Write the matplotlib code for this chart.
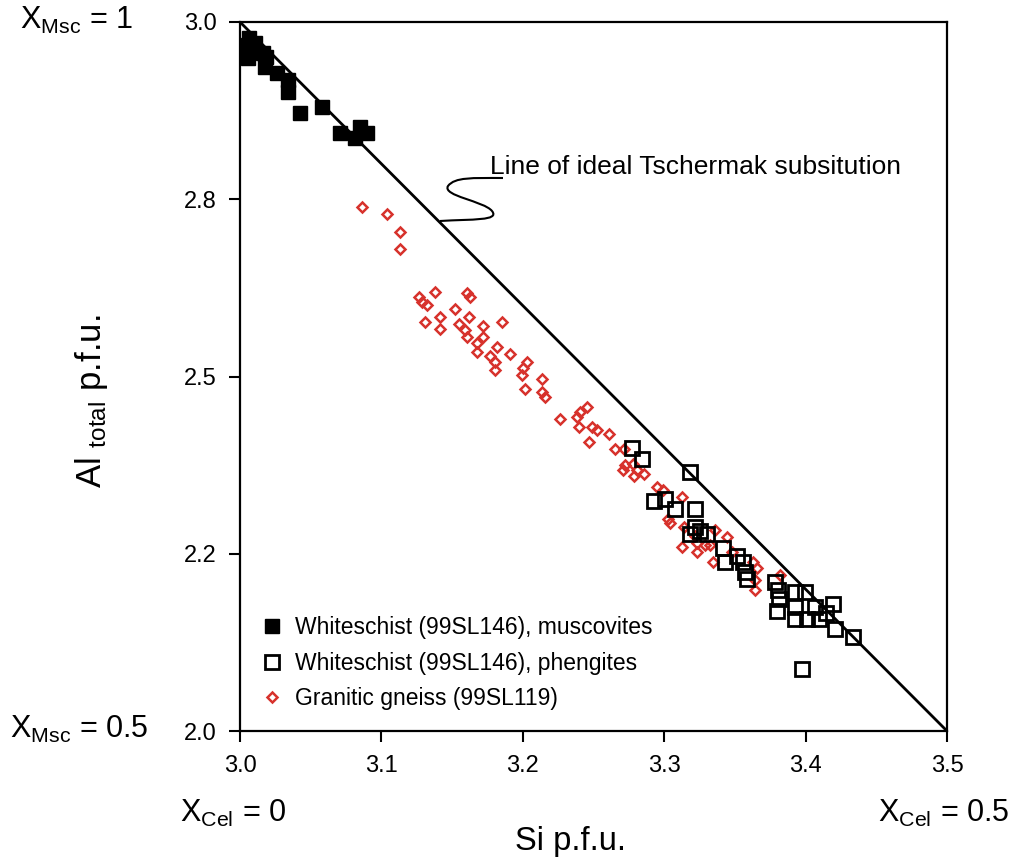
import numpy as np
import matplotlib
matplotlib.use('Agg')
import matplotlib.pyplot as plt
from matplotlib.path import Path
from matplotlib.patches import PathPatch

plt.rcParams['font.family'] = ['Liberation Sans', 'DejaVu Sans']
plt.rcParams['mathtext.fontset'] = 'custom'
plt.rcParams['mathtext.rm'] = 'Liberation Sans'
plt.rcParams['mathtext.it'] = 'Liberation Sans:italic'

# Whiteschist (99SL146), muscovites
musc_si = [3.0057, 3.0057, 3.0085, 3.0106, 3.0064, 3.0163, 3.0184, 3.0177, 3.0262,
           3.0339, 3.0339, 3.0424, 3.0580, 3.0707, 3.0813, 3.0849, 3.0898]
musc_al = [2.9676, 2.9492, 2.9605, 2.9704, 2.9774, 2.9563, 2.9506, 2.9365, 2.9281,
           2.9182, 2.9013, 2.8717, 2.8800, 2.8434, 2.8364, 2.8519, 2.8434]

# Whiteschist (99SL146), phengites
phen_si = [3.2772, 3.2843, 3.3182, 3.2928, 3.3006, 3.3077, 3.3218, 3.3218, 3.3182,
           3.3253, 3.3303, 3.3416, 3.3430, 3.3515, 3.3557, 3.3571, 3.3586, 3.3784,
           3.3805, 3.3812, 3.3798, 3.3925, 3.3996, 3.3925, 3.3925, 3.4010, 3.4066,
           3.4095, 3.4144, 3.4194, 3.4208, 3.4335, 3.3975]
phen_al = [2.3992, 2.3836, 2.3653, 2.3244, 2.3272, 2.3131, 2.3131, 2.2877, 2.2779,
           2.2821, 2.2779, 2.2581, 2.2384, 2.2468, 2.2384, 2.2243, 2.2144, 2.2102,
           2.1989, 2.1862, 2.1693, 2.1961, 2.1961, 2.1749, 2.1580, 2.1580, 2.1749,
           2.1580, 2.1664, 2.1791, 2.1439, 2.1326, 2.0874]

# Granitic gneiss (99SL119)
gn_si = [3.0863, 3.1039, 3.1131, 3.1131, 3.1266, 3.1287, 3.1322, 3.1379, 3.1308,
         3.1414, 3.1414, 3.1520, 3.1605, 3.1626, 3.1619, 3.1549, 3.1591, 3.1605,
         3.1718, 3.1718, 3.1676, 3.1676, 3.1852, 3.1817, 3.1909, 3.1768, 3.1803,
         3.1803, 3.2030, 3.2001, 3.1994, 3.2135, 3.2015, 3.2135, 3.2156, 3.2262,
         3.2383, 3.2404, 3.2453, 3.2397, 3.2489, 3.2524, 3.2609, 3.2467, 3.2651,
         3.2715, 3.2722, 3.2779, 3.2708, 3.2807, 3.2856, 3.2786, 3.2948, 3.2991,
         3.3125, 3.3026, 3.3040, 3.3139, 3.3125, 3.3231, 3.3231, 3.3217, 3.3288,
         3.3358, 3.3443, 3.3323, 3.3344, 3.3478, 3.3627, 3.3656, 3.3642, 3.3642,
         3.3818]
gn_al = [2.7391, 2.7292, 2.7038, 2.6798, 2.6121, 2.6051, 2.6008, 2.6192, 2.5768,
         2.5839, 2.5670, 2.5952, 2.6178, 2.6121, 2.5839, 2.5740, 2.5656, 2.5557,
         2.5712, 2.5557, 2.5472, 2.5345, 2.5768, 2.5416, 2.5317, 2.5289, 2.5204,
         2.5092, 2.5204, 2.5120, 2.5021, 2.4965, 2.4824, 2.4781, 2.4711, 2.4400,
         2.4429, 2.4499, 2.4570, 2.4288, 2.4288, 2.4245, 2.4189, 2.4076, 2.3977,
         2.3977, 2.3752, 2.3766, 2.3681, 2.3681, 2.3625, 2.3597, 2.3441, 2.3399,
         2.3300, 2.2990, 2.2934, 2.2877, 2.2595, 2.2652, 2.2525, 2.2750, 2.2623,
         2.2835, 2.2736, 2.2623, 2.2384, 2.2525, 2.2384, 2.2299, 2.2130, 2.1989,
         2.2200]

# ideal Tschermak substitution line
ideal_si = [3.0, 3.5]
ideal_al = [3.0, 2.0]

x_ticks = [3.0, 3.1, 3.2, 3.3, 3.4, 3.5]
y_ticks = [2.0, 2.25, 2.5, 2.75, 3.0]
y_tick_labels = ['2.0', '2.2', '2.5', '2.8', '3.0']

fig = plt.figure(figsize=(10.12, 8.61), dpi=100)
ax = fig.add_axes([240/1012, 1-731/861, 707/1012, 709/861])

ax.plot(ideal_si, ideal_al, color='black', lw=2, zorder=2)
ax.plot(gn_si, gn_al, 'D', ls='none', ms=5.5, mfc='none', mec='#d7322c', mew=1.8,
        label='Granitic gneiss (99SL119)', zorder=3)
ax.plot(phen_si, phen_al, 's', ls='none', ms=9.5, mfc='none', mec='black', mew=2,
        label='Whiteschist (99SL146), phengites', zorder=4)
ax.plot(musc_si, musc_al, 's', ls='none', ms=9.5, mfc='black', mec='black',
        label='Whiteschist (99SL146), muscovites', zorder=5)

ax.set_xlim(3.0, 3.5)
ax.set_ylim(2.0, 3.0)
ax.set_xticks(x_ticks)
ax.set_xticklabels(['%.1f' % v for v in x_ticks])
ax.set_yticks(y_ticks)
ax.set_yticklabels(y_tick_labels)
ax.tick_params(direction='out', length=8, width=1.5, labelsize=17, pad=9)
for s in ax.spines.values():
    s.set_linewidth(1.6)

h, l = ax.get_legend_handles_labels()
ax.legend(h[::-1], l[::-1], loc='lower left', bbox_to_anchor=(0.0, 0.0),
          frameon=False, fontsize=16.5, handletextpad=0.5, labelspacing=0.55,
          handlelength=1.0)

# annotation squiggle (pixel positions converted to axes fraction)
def fr(px, py):
    return ((px - 240) / 707, (731 - py) / 709)

verts = [fr(440, 221), fr(472, 219), fr(500, 221), fr(492, 211),
         fr(484, 201), fr(442, 196), fr(448, 186),
         fr(455, 177), fr(472, 178), fr(503, 178)]
codes = [Path.MOVETO] + [Path.CURVE4] * 9
ax.add_patch(PathPatch(Path(verts, codes), transform=ax.transAxes,
                       fc='none', ec='black', lw=1.5))
ax.text(*fr(490, 167), 'Line of ideal Tschermak subsitution', transform=ax.transAxes,
        fontsize=19, va='center', ha='left')

fig.text(571/1012, 1-850/861, 'Si p.f.u.', fontsize=23.5, ha='center', va='baseline')
fig.text(92/1012, 1-401/861, r'Al $_{\mathregular{total}}$ p.f.u.', fontsize=25,
         rotation=90, ha='center', va='center')

fig.text(20/1012, 1-29/861, r'X$_{\mathregular{Msc}}$ = 1', fontsize=22, va='baseline')
fig.text(10/1012, 1-738/861, r'X$_{\mathregular{Msc}}$ = 0.5', fontsize=22, va='baseline')
fig.text(180/1012, 1-822/861, r'X$_{\mathregular{Cel}}$ = 0', fontsize=22, va='baseline')
fig.text(878/1012, 1-822/861, r'X$_{\mathregular{Cel}}$ = 0.5', fontsize=22, va='baseline')

fig.savefig('out.png', dpi=100)
